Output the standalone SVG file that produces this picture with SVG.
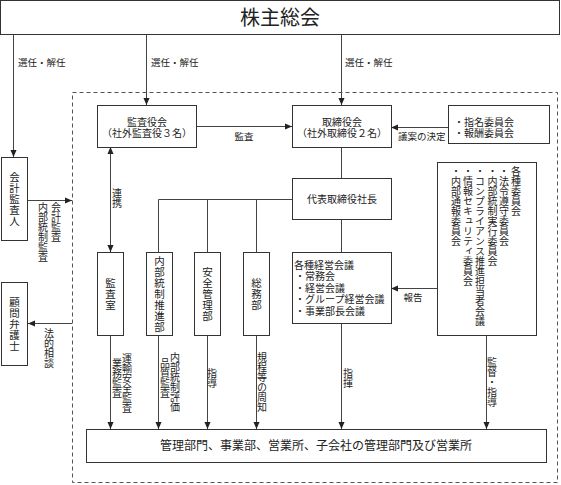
<svg xmlns="http://www.w3.org/2000/svg" width="561" height="485" viewBox="0 0 561 485">
<defs>
<style>
text{font-family:"Noto Sans CJK JP","Noto Sans",sans-serif;fill:#222}
.n{font-size:10px}
.l{font-size:9.5px}
.vn{font-size:10.5px;writing-mode:vertical-rl;text-orientation:upright;text-anchor:middle;letter-spacing:0.5px;dominant-baseline:central}
.vl{font-size:10px;writing-mode:vertical-rl;text-orientation:upright;dominant-baseline:central}
.m{text-anchor:middle}
rect{fill:#fff;stroke:#333;stroke-width:1}
.c path{fill:none;stroke:#444;stroke-width:1}
</style>
<marker id="ah" viewBox="0 0 8 8" refX="8" refY="4" markerWidth="7" markerHeight="7" markerUnits="userSpaceOnUse" orient="auto-start-reverse">
<path d="M0,0.5 L8,4 L0,7.5 z" fill="#222"/>
</marker>
</defs>
<rect id="frame" x="72.5" y="92.5" width="485" height="390" style="fill:none;stroke:#555;stroke-dasharray:4 3"/>
<g class="c" id="connectors">
<path d="M13.5,35 V157" marker-end="url(#ah)"/>
<path d="M146.5,35 V105" marker-end="url(#ah)"/>
<path d="M341.5,35 V105" marker-end="url(#ah)"/>
<path d="M196,126.5 H292" marker-end="url(#ah)"/>
<path d="M448,127.5 H391" marker-end="url(#ah)"/>
<path d="M110.5,147 V252" marker-start="url(#ah)" marker-end="url(#ah)"/>
<path d="M27,200.5 H72" marker-end="url(#ah)"/>
<path d="M72,323.5 H28" marker-end="url(#ah)"/>
<path d="M341.5,147 V178"/>
<path d="M341.5,219 V252"/>
<path d="M292,199.5 H158.5 V252"/>
<path d="M207.5,199.5 V252"/>
<path d="M256.5,199.5 V252"/>
<path d="M437,288.5 H391" marker-end="url(#ah)"/>
<path d="M110.5,335 V429" marker-end="url(#ah)"/>
<path d="M158.5,335 V429" marker-end="url(#ah)"/>
<path d="M207.5,335 V429" marker-end="url(#ah)"/>
<path d="M256.5,335 V429" marker-end="url(#ah)"/>
<path d="M341.5,323 V429" marker-end="url(#ah)"/>
<path d="M486.5,335 V429" marker-end="url(#ah)"/>
</g>
<g id="labels">
<text class="l" x="18" y="66">選任・解任</text>
<text class="l" x="151" y="66">選任・解任</text>
<text class="l" x="345" y="66">選任・解任</text>
<text class="l m" x="244" y="140">監査</text>
<text class="l" x="398" y="140">議案の決定</text>
<text class="l m" x="413" y="301">報告</text>
<text class="vl" x="117" y="188">連携</text>
<text class="vl" x="56" y="202">会計監査</text>
<text class="vl" x="43" y="202">内部統制監査</text>
<text class="vl" x="49" y="328">法的相談</text>
<text class="vl" x="127" y="353">運輸安全監査</text>
<text class="vl" x="117" y="358">業務監査</text>
<text class="vl" x="175" y="352">内部統制評価</text>
<text class="vl" x="165" y="358">品質監査</text>
<text class="vl" x="212" y="368">指導</text>
<text class="vl" x="262" y="352">規程等の周知</text>
<text class="vl" x="348" y="368">指揮</text>
<text class="vl" x="492" y="357">監督・指導</text>
</g>
<g id="shareholders">
<rect x="0.5" y="0.5" width="559" height="34"/>
<text x="280" y="25" class="m" style="font-size:20px">株主総会</text>
</g>
<g id="auditor">
<rect x="1.5" y="157.5" width="26" height="83"/>
<text class="vn" x="14.5" y="199">会計監査人</text>
</g>
<g id="lawyer">
<rect x="1.5" y="282.5" width="26" height="83"/>
<text class="vn" x="14.5" y="324">顧問弁護士</text>
</g>
<g id="audit-board">
<rect x="97.5" y="105.5" width="99" height="42"/>
<text class="n m" x="147" y="125.5">監査役会</text>
<text class="n m" x="147" y="137">（社外監査役３名）</text>
</g>
<g id="board">
<rect x="292.5" y="105.5" width="99" height="42"/>
<text class="n m" x="342" y="125.5">取締役会</text>
<text class="n m" x="342" y="137">（社外取締役２名）</text>
</g>
<g id="committees">
<rect x="448.5" y="105.5" width="101" height="38"/>
<text class="n" x="454" y="125.5">・指名委員会</text>
<text class="n" x="454" y="137">・報酬委員会</text>
</g>
<g id="president">
<rect x="292.5" y="178.5" width="99" height="41"/>
<text class="n m" x="342" y="203">代表取締役社長</text>
</g>
<g id="various-committees">
<rect x="437.5" y="162.5" width="99" height="173"/>
<text class="vl" x="516" y="166">各種委員会</text>
<text class="vl" x="504" y="166">・法令遵守委員会</text>
<text class="vl" x="492.5" y="166">・内部統制実行委員会</text>
<text class="vl" x="480" y="166">・コンプライアンス推進担当者会議</text>
<text class="vl" x="468" y="166">・情報セキュリティ委員会</text>
<text class="vl" x="456" y="166">・内部通報委員会</text>
</g>
<g id="audit-office">
<rect x="97.5" y="252.5" width="26" height="83"/>
<text class="vn" x="110.5" y="294">監査室</text>
</g>
<g id="internal-control">
<rect x="146.5" y="252.5" width="26" height="83"/>
<text class="vn" x="159.5" y="294">内部統制推進部</text>
</g>
<g id="safety">
<rect x="194.5" y="252.5" width="26" height="83"/>
<text class="vn" x="207.5" y="294">安全管理部</text>
</g>
<g id="general-affairs">
<rect x="243.5" y="252.5" width="26" height="83"/>
<text class="vn" x="256.5" y="294">総務部</text>
</g>
<g id="management-meetings">
<rect x="292.5" y="252.5" width="99" height="71"/>
<text class="n" x="294" y="268.5">各種経営会議</text>
<text class="n" x="295" y="280">・常務会</text>
<text class="n" x="295" y="291.5">・経営会議</text>
<text class="n" x="295" y="303">・グループ経営会議</text>
<text class="n" x="295" y="314.5">・事業部長会議</text>
</g>
<g id="departments">
<rect x="86.5" y="429.5" width="460" height="33"/>
<text class="m" x="316" y="450" style="font-size:12px">管理部門、事業部、営業所、子会社の管理部門及び営業所</text>
</g>
</svg>
